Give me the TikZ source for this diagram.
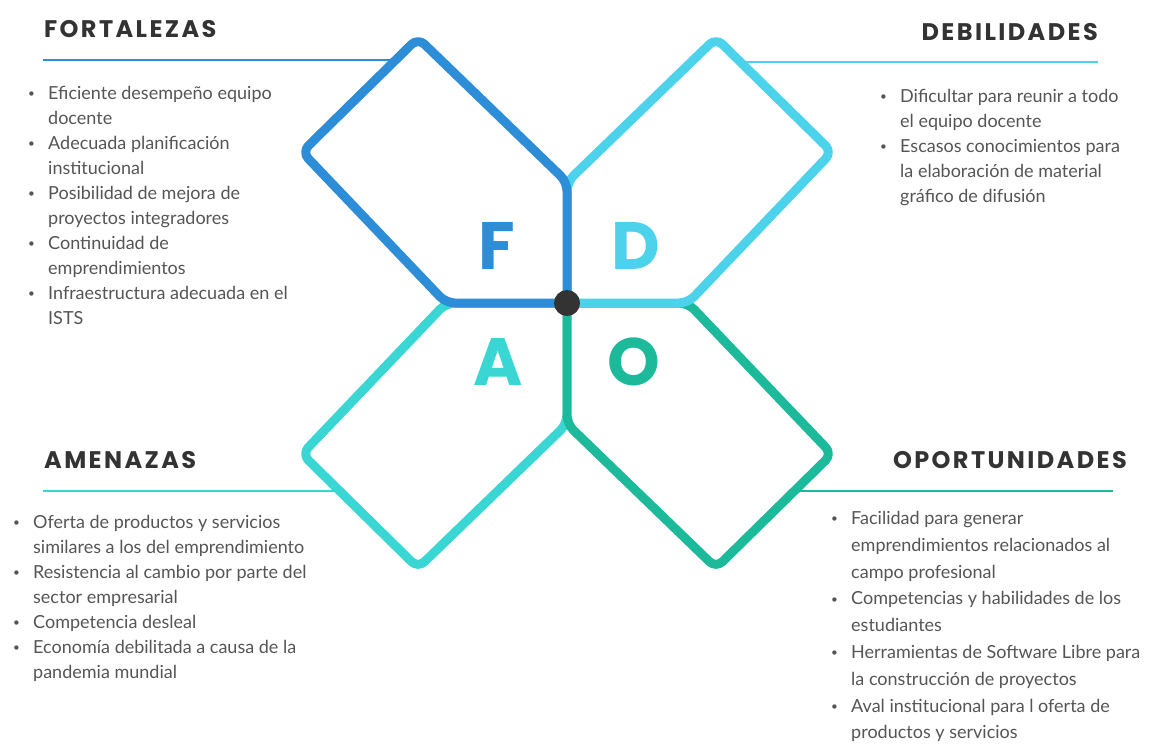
\documentclass[tikz,border=0pt]{standalone}
\usepackage{fontspec}
\setmainfont{Lato}
\newfontfamily\headfont{Poppins}
\usetikzlibrary{positioning}

\definecolor{fblue}{HTML}{2D8DD6}
\definecolor{dcyan}{HTML}{4DD2EC}
\definecolor{aturq}{HTML}{3AD6D3}
\definecolor{oteal}{HTML}{1CBA9B}
\definecolor{txtgray}{HTML}{555555}
\definecolor{headgray}{HTML}{333333}

\newcommand{\bul}{\makebox[20pt][l]{\raisebox{1.5pt}{\scalebox{0.65}{\textbullet}}}}
\newcommand{\nob}{\hspace*{20pt}}

\begin{document}
\begin{tikzpicture}[x=1pt, y=-1pt,
    shp/.style={line width=9pt, rounded corners=9pt, fill=white, line join=round},
    rule/.style={line width=2.5pt},
    head/.style={font=\headfont\bfseries\fontsize{24}{24}\selectfont\addfontfeature{LetterSpace=10}, text=headgray, inner sep=0pt},
    lst/.style={font=\fontsize{18}{25}\selectfont, text=txtgray, align=left, inner sep=0pt, anchor=north west},
    letter/.style={font=\headfont\bfseries\fontsize{67}{67}\selectfont, inner sep=0pt}]

    \useasboundingbox (0,0) rectangle (1164,753);

    % centre and the four inner corners
    \coordinate (c) at (567,303);
    \coordinate (t) at (567,182);
    \coordinate (b) at (567,424);
    \coordinate (l) at (446,303);
    \coordinate (r) at (688,303);

    % ends of the heading rules
    \coordinate (fr1) at (43,60);   \coordinate (fr2) at (400,60);
    \coordinate (dr1) at (735,62);  \coordinate (dr2) at (1098,62);
    \coordinate (ar1) at (43,491);  \coordinate (ar2) at (345,491);
    \coordinate (or1) at (790,491); \coordinate (or2) at (1113,491);

    \draw[rule, fblue] (fr1) -- (fr2);
    \draw[rule, dcyan] (dr1) -- (dr2);
    \draw[rule, aturq] (ar1) -- (ar2);
    \draw[rule, oteal] (or1) -- (or2);

    % the four petals
    \draw[shp, draw=aturq] (c) -- (l) -- (302,454) -- (418,568) -- (b) -- cycle;
    \draw[shp, draw=oteal] (c) -- (b) -- (716,568) -- (832,454) -- (r) -- cycle;
    \draw[shp, draw=dcyan] (c) -- (r) -- (832,152) -- (716,38) -- (t) -- cycle;
    \draw[shp, draw=fblue] (c) -- (t) -- (418,38) -- (302,152) -- (l) -- cycle;

    \fill[headgray] (c) circle (13pt);

    \node[letter, text=fblue] (lf) at (497,246) {F};
    \node[letter, text=dcyan] (ld) at (636,246) {D};
    \node[letter, text=aturq] (la) at (498,362) {A};
    \node[letter, text=oteal] (lo) at (634,362) {O};

    \node[head, anchor=base west] (fhead) at (44,37) {FORTALEZAS};
    \node[head, anchor=base east] (dhead) at (1098,40) {DEBILIDADES};
    \node[head, anchor=base west] (ahead) at (44,468) {AMENAZAS};
    \node[head, anchor=base east] (ohead) at (1127,468) {OPORTUNIDADES};

    \node[lst] (flist) at (28,86) {\bul Eficiente desempeño equipo\\ \nob docente\\
        \bul Adecuada planificación\\ \nob institucional\\
        \bul Posibilidad de mejora de\\ \nob proyectos integradores\\
        \bul Continuidad de\\ \nob emprendimientos\\
        \bul Infraestructura adecuada en el\\ \nob ISTS};

    \node[lst] (dlist) at (880,89) {\bul Dificultar para reunir a todo\\ \nob el equipo docente\\
        \bul Escasos conocimientos para\\ \nob la elaboración de material\\
        \nob gráfico de difusión};

    \node[lst] (alist) at (13,515) {\bul Oferta de productos y servicios\\ \nob similares a los del emprendimiento\\
        \bul Resistencia al cambio por parte del\\ \nob sector empresarial\\
        \bul Competencia desleal\\
        \bul Economía debilitada a causa de la\\ \nob pandemia mundial};

    \node[lst, font=\fontsize{18}{26.8}\selectfont] (olist) at (831,511) {\bul Facilidad para generar\\ \nob emprendimientos relacionados al\\
        \nob campo profesional\\
        \bul Competencias y habilidades de los\\ \nob estudiantes\\
        \bul Herramientas de Software Libre para\\ \nob la construcción de proyectos\\
        \bul Aval institucional para l oferta de\\ \nob productos y servicios};
\end{tikzpicture}
\end{document}
